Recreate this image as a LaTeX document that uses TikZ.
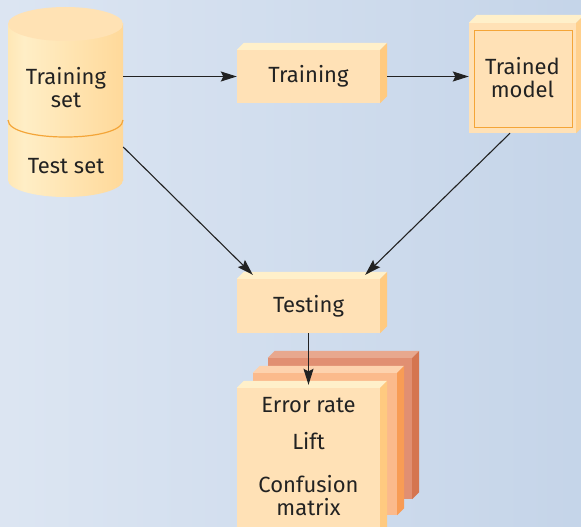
\documentclass[tikz,border=0pt]{standalone}
\usepackage{fontspec}
\setmainfont{Fira Sans}
\usepackage{tikz}
\usetikzlibrary{arrows.meta}
\usetikzlibrary{calc}

\definecolor{ink}{HTML}{222222}
\definecolor{bgleft}{HTML}{E8EEF7}
\definecolor{bgright}{HTML}{B9CCE4}
\definecolor{faceA}{HTML}{FFE1B6}
\definecolor{topA}{HTML}{FFF0CA}
\definecolor{sideA}{HTML}{FFCA80}
\definecolor{sideM}{HTML}{FFD08C}
\definecolor{faceB}{HTML}{FBBA8C}
\definecolor{topB}{HTML}{FDD2AE}
\definecolor{sideB}{HTML}{F89C55}
\definecolor{faceC}{HTML}{E18F72}
\definecolor{topC}{HTML}{E8A88E}
\definecolor{sideC}{HTML}{D57550}
\definecolor{rim}{HTML}{F4A538}
\definecolor{cylA}{HTML}{FFC46C}
\definecolor{cylB}{HTML}{FFE3AA}
\definecolor{cylC}{HTML}{FFEEC6}
\definecolor{cylD}{HTML}{FFD99A}
\definecolor{cylE}{HTML}{FFC877}
\definecolor{cyltop}{HTML}{FFE2B4}

\pgfdeclarehorizontalshading{sky}{100bp}{color(0bp)=(bgleft); color(100bp)=(bgright)}
\pgfdeclarehorizontalshading{barrel}{100bp}{color(0bp)=(cylA); color(20bp)=(cylB); color(32bp)=(cylC); color(75bp)=(cylD); color(100bp)=(cylE)}

% top and right faces of a box node
\newcommand{\boxsides}[4]{%
  \fill[#3] (#1.north west) -- ++(#2,-#2) -- ($(#1.north east)+(#2,-#2)$) -- (#1.north east) -- cycle;
  \fill[#4] (#1.north east) -- ($(#1.north east)+(#2,-#2)$) -- ($(#1.south east)+(#2,-#2)$) -- (#1.south east) -- cycle;}

\begin{document}
\begin{tikzpicture}[x=1pt,y=-1pt,>={Stealth[length=16pt,width=10pt,inset=2.5pt]},
  every node/.style={font=\fontsize{22}{23}\selectfont, text=ink},
  front/.style={fill=#1, inner sep=0pt, align=center},
  link/.style={->, line width=1.1pt, draw=ink}]

% Background
\useasboundingbox (0,0) rectangle (581,527);
\shade[shading=sky] (0,0) rectangle (581,527);

% Data store
\shade[shading=barrel] (8,24) rectangle (123,180);
\shade[shading=barrel] (65.5,180) ellipse [x radius=57.5, y radius=17];
\fill[cyltop] (65.5,24) ellipse [x radius=57.5, y radius=17];
\draw[rim, line width=1.2pt] (8,120) .. controls (8,142.7) and (123,142.7) .. (123,120);
\node (db) [minimum width=115, minimum height=189, inner sep=0pt] at (65.5,102.5) {};
\node (trainset) [align=center] at (66,88) {Training\\set};
\node (testset) [anchor=base] at (66,173) {Test set};

% Steps
\node (train) [front=faceA, minimum width=143, minimum height=53] at (308.5,76.5) {Training};
\boxsides{train}{7}{topA}{sideA}
\node (model) [front=faceA, minimum width=107, minimum height=110] at (522.5,78) {Trained\\model};
\boxsides{model}{8}{topA}{sideM}
\draw[rim, line width=1.2pt] ($(model.north west)+(6,8)$) rectangle ($(model.south east)+(-4,-6)$);
\node (test) [front=faceA, minimum width=143, minimum height=54] at (308.5,306) {Testing};
\boxsides{test}{7}{topA}{sideA}

% Results
\node (res3) [front=faceC, minimum width=144, minimum height=141] at (340,428.5) {};
\boxsides{res3}{7}{topC}{sideC}
\node (res2) [front=faceB, minimum width=144, minimum height=142] at (325,444) {};
\boxsides{res2}{7}{topB}{sideB}
\node (res1) [front=faceA, minimum width=143, minimum height=152] at (308.5,464) {};
\boxsides{res1}{7}{topA}{sideA}
\node (err) [anchor=base] at (308.5,412) {Error rate};
\node (lift) [anchor=base] at (308.5,449) {Lift};
\node (conf) [align=center] at (308.5,496) {Confusion\\matrix};

% Arrows
\draw[link] (train.west -| db.east) -- (train.west);
\draw[link] ([xshift=7pt]train.east) -- (train.east -| model.west);
\draw[link] ($(db.east)+(0,44.5)$) -- ($(test.north west)+(16,-4)$);
\draw[link] ($(model.south)+(-12.5,0)$) -- ($(test.north east)+(-15,-4)$);
\draw[link] (test.south) -- ($(res1.north)+(0,-3)$);

\end{tikzpicture}
\end{document}
